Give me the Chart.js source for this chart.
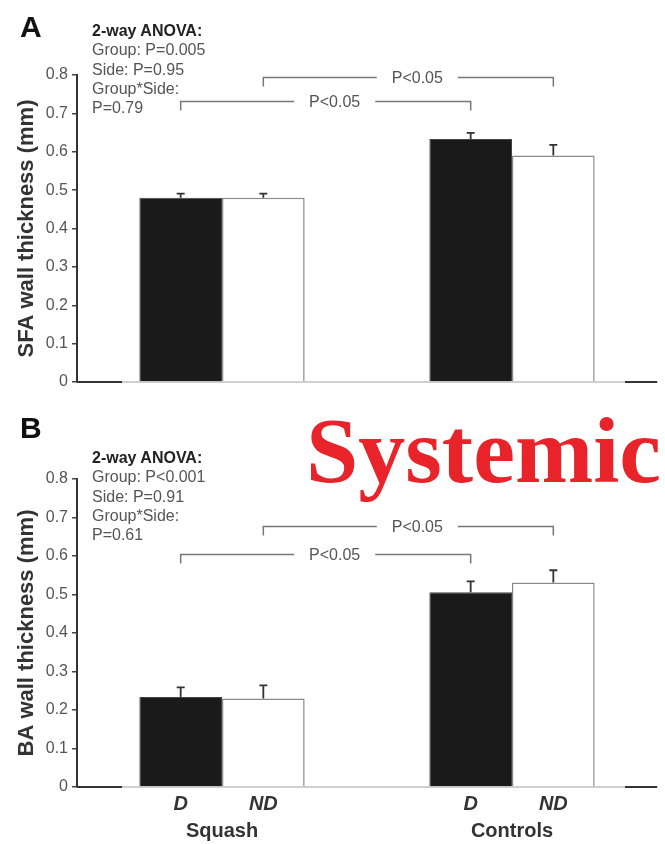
<html lang="en">
<head>
    <meta charset="UTF-8">
    <title>SFA and BA wall thickness</title>
    <script src="https://cdn.jsdelivr.net/npm/chart.js@4.4.1/dist/chart.umd.min.js"></script>
    <style>
        body { margin: 0; background: #fff; }
        #page { position: relative; width: 665px; height: 844px; font-family: "Liberation Sans", Arial, sans-serif; }
        canvas { position: absolute; left: 0; }
        .letter { position: absolute; left: 20px; font-size: 30px; font-weight: bold; color: #111; line-height: 1; }
        .anova { position: absolute; left: 92px; font-size: 16px; line-height: 19.3px; color: #555; }
        .anova b { color: #222; }
        #stamp { position: absolute; left: 306px; top: 403px; font-family: "Liberation Serif", "Times New Roman", serif;
                 font-weight: bold; font-size: 94px; line-height: 1; color: #e8232a; z-index: 5; }
    </style>
</head>
<body>
<div id="page">
    <canvas id="sfa" width="665" height="400" style="top:0"></canvas>
    <canvas id="ba" width="665" height="444" style="top:400px"></canvas>

    <div class="letter" style="top:12px">A</div>
    <div class="anova" style="top:21px"><b>2-way ANOVA:</b><br>Group: P=0.005<br>Side: P=0.95<br>Group*Side:<br>P=0.79</div>

    <div class="letter" style="top:413px">B</div>
    <div class="anova" style="top:448px"><b>2-way ANOVA:</b><br>Group: P&lt;0.001<br>Side: P=0.91<br>Group*Side:<br>P=0.61</div>

    <div id="stamp">Systemic</div>
</div>
<script>
    const groups = ['Squash', 'Controls'];
    const sides = ['D', 'ND'];

    // panel A: SFA wall thickness (mm)
    const sfaD = [0.480, 0.633];
    const sfaND = [0.480, 0.590];
    const sfaDErr = [0.011, 0.016];
    const sfaNDErr = [0.011, 0.028];
    // [side index, from group, to group, level, label]
    const sfaBrackets = [[1, 0, 1, 0.794, 'P<0.05'], [0, 0, 1, 0.732, 'P<0.05']];

    // panel B: BA wall thickness (mm)
    const baD = [0.234, 0.506];
    const baND = [0.230, 0.531];
    const baDErr = [0.025, 0.028];
    const baNDErr = [0.034, 0.032];
    const baBrackets = [[1, 0, 1, 0.677, 'P<0.05'], [0, 0, 1, 0.605, 'P<0.05']];

    const yMax = 0.8;
    const yStep = 0.1;

    const FONT = '"Liberation Sans", Arial, sans-serif';

    // error bars, significance brackets, axis ends and side labels
    const extras = {
        id: 'extras',
        afterDatasetsDraw(chart, args, opts) {
            const ctx = chart.ctx;
            const y = chart.scales.y;
            const area = chart.chartArea;
            ctx.save();

            // dark ends of the baseline
            ctx.strokeStyle = '#333';
            ctx.lineWidth = 2;
            ctx.beginPath();
            ctx.moveTo(area.left, area.bottom); ctx.lineTo(area.left + 45, area.bottom);
            ctx.moveTo(area.right - 32, area.bottom); ctx.lineTo(area.right, area.bottom);
            ctx.stroke();

            // error bars (upper only)
            ctx.strokeStyle = '#333';
            ctx.lineWidth = 1.8;
            opts.errors.forEach((errs, di) => {
                const meta = chart.getDatasetMeta(di);
                meta.data.forEach((bar, i) => {
                    const v = chart.data.datasets[di].data[i];
                    const top = y.getPixelForValue(v + errs[i]);
                    ctx.beginPath();
                    ctx.moveTo(bar.x, bar.y);
                    ctx.lineTo(bar.x, top);
                    ctx.moveTo(bar.x - 4, top);
                    ctx.lineTo(bar.x + 4, top);
                    ctx.stroke();
                });
            });

            // brackets
            ctx.font = '16px ' + FONT;
            ctx.textAlign = 'center';
            ctx.textBaseline = 'middle';
            opts.brackets.forEach(([di, a, b, level, label]) => {
                const meta = chart.getDatasetMeta(di);
                const x1 = meta.data[a].x, x2 = meta.data[b].x;
                const py = Math.round(y.getPixelForValue(level)) + 0.5;
                const tx = (x1 + x2) / 2 + 9;
                const half = ctx.measureText(label).width / 2 + 15;
                ctx.strokeStyle = '#777';
                ctx.lineWidth = 1.5;
                ctx.beginPath();
                ctx.moveTo(x1, py + 9); ctx.lineTo(x1, py); ctx.lineTo(tx - half, py);
                ctx.moveTo(tx + half, py); ctx.lineTo(x2, py); ctx.lineTo(x2, py + 9);
                ctx.stroke();
                ctx.fillStyle = '#555';
                ctx.fillText(label, tx, py + 1);
            });

            // D / ND under each bar
            if (opts.sideLabels) {
                ctx.font = 'italic bold 20px ' + FONT;
                ctx.fillStyle = '#333';
                ctx.textBaseline = 'middle';
                chart.data.datasets.forEach((ds, di) => {
                    chart.getDatasetMeta(di).data.forEach(bar => {
                        ctx.fillText(sides[di], bar.x, area.bottom + 17);
                    });
                });
            }
            ctx.restore();
        }
    };

    function makeChart(id, dData, ndData, dErr, ndErr, brackets, title, pad, xHeight, showX) {
        return new Chart(document.getElementById(id), {
            type: 'bar',
            data: {
                labels: groups,
                datasets: [
                    { label: sides[0], data: dData, backgroundColor: '#1a1a1a', borderColor: '#444', borderWidth: 1 },
                    { label: sides[1], data: ndData, backgroundColor: '#ffffff', borderColor: '#8a8a8a', borderWidth: 1.5 }
                ]
            },
            options: {
                responsive: false,
                animation: false,
                categoryPercentage: 0.57,
                barPercentage: 1,
                layout: { padding: pad },
                plugins: {
                    legend: { display: false },
                    tooltip: { enabled: false },
                    extras: { errors: [dErr, ndErr], brackets: brackets, sideLabels: showX }
                },
                scales: {
                    x: {
                        grid: { display: false },
                        border: { display: true, color: '#cfcfcf', width: 2 },
                        ticks: {
                            display: showX,
                            padding: 24,
                            color: '#333',
                            font: { family: FONT, size: 20, weight: 'bold' }
                        },
                        afterFit: s => { s.height = xHeight; }
                    },
                    y: {
                        min: 0,
                        max: yMax,
                        ticks: {
                            stepSize: yStep,
                            padding: 4,
                            color: '#555',
                            font: { family: FONT, size: 16 }
                        },
                        grid: { display: true, drawOnChartArea: false, tickLength: 5, color: '#444', lineWidth: 1.5 },
                        border: { display: true, color: '#333', width: 2 },
                        title: {
                            display: true,
                            text: title,
                            color: '#333',
                            padding: { top: 14, bottom: 0 },
                            font: { family: FONT, size: 22, weight: 'bold' }
                        },
                        afterFit: s => { s.width = 77; }
                    }
                }
            },
            plugins: [extras]
        });
    }

    makeChart('sfa', sfaD, sfaND, sfaDErr, sfaNDErr, sfaBrackets, 'SFA wall thickness (mm)',
        { top: 75, right: 8, bottom: 18, left: 0 }, 0, false);
    makeChart('ba', baD, baND, baDErr, baNDErr, baBrackets, 'BA wall thickness (mm)',
        { top: 79, right: 8, bottom: 0, left: 0 }, 57, true);
</script>
</body>
</html>
